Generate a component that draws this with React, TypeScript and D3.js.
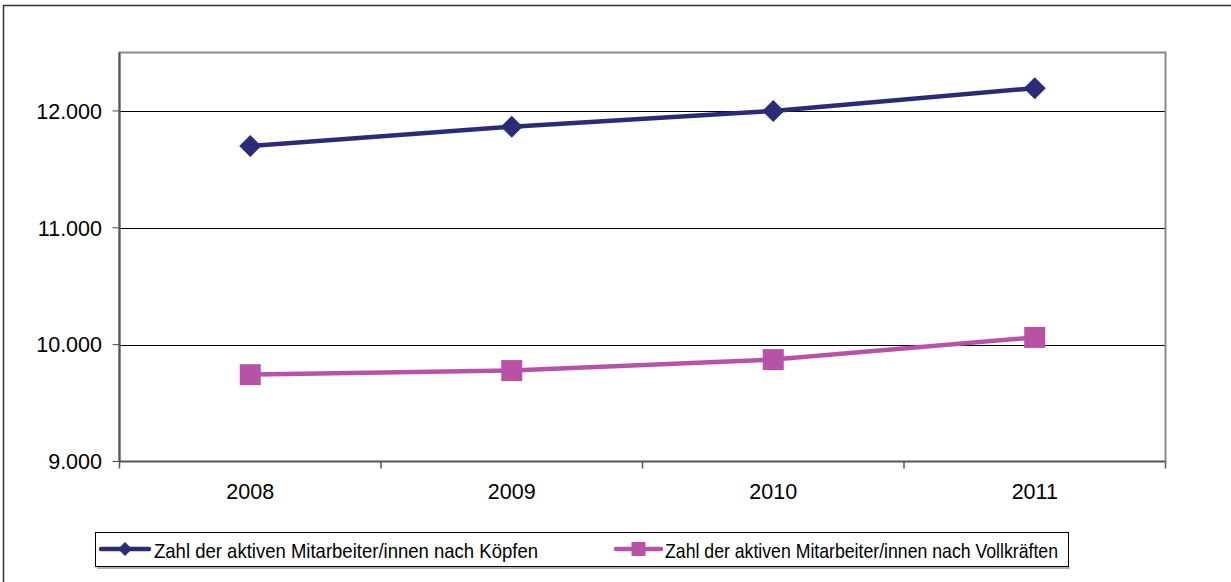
import React from "react";
import * as d3 from "d3";

const years = ["2008", "2009", "2010", "2011"];
const koepfe = [11700, 11865, 12000, 12195];
const vollkraefte = [9743, 9778, 9872, 10062];
const yTicks = [9000, 10000, 11000, 12000];
const seriesNames = [
  "Zahl der aktiven Mitarbeiter/innen nach Köpfen",
  "Zahl der aktiven Mitarbeiter/innen nach Vollkräften",
];

const W = 1231;
const H = 582;
const left = 119.5;
const right = 1165.5;
const top = 52.5;
const bottom = 461.5;
const navy = "#2B2B7A";
const pink = "#B752A7";
const font = "'Liberation Sans', Arial, sans-serif";

export default function App() {
  const x = d3.scaleBand<string>().domain(years).range([left, right]);
  const y = d3.scaleLinear().domain([9000, 12500]).range([bottom, top]);
  const cx = (d: string) => (x(d) ?? 0) + x.bandwidth() / 2;
  const line = d3
    .line<number>()
    .x((_, i) => cx(years[i]))
    .y((v) => y(v));
  const fmt = (v: number) => d3.format(",")(v).replace(/,/g, ".");
  const boundaries = years.map((d) => x(d) ?? 0).concat([right]);

  const diamond = (px: number, py: number, r: number) =>
    `M${px - r},${py}L${px},${py - r}L${px + r},${py}L${px},${py + r}Z`;

  return (
    <svg
      width={W}
      height={H}
      style={{ position: "absolute", left: 0, top: 0, background: "#fff" }}
    >
      <rect x={3.5} y={5.5} width={W + 10} height={H + 10} fill="#fff" stroke="#333" strokeWidth={1.5} />
      {/* gridlines */}
      {yTicks.slice(1).map((t) => (
        <line key={t} x1={left} x2={right} y1={Math.round(y(t)) + 0.5} y2={Math.round(y(t)) + 0.5} stroke="#000" strokeWidth={1} />
      ))}
      {/* plot border */}
      <path
        d={`M${left},${bottom}L${left},${top}L${right},${top}L${right},${bottom}`}
        fill="none"
        stroke="#8a8a8a"
        strokeWidth={2}
      />
      <line x1={left} x2={left} y1={top} y2={bottom} stroke="#555" strokeWidth={2} />
      <line x1={left} x2={right} y1={bottom} y2={bottom} stroke="#555" strokeWidth={2} />
      {/* y ticks */}
      {yTicks.map((t) => (
        <g key={t}>
          <line x1={left - 7} x2={left} y1={y(t)} y2={y(t)} stroke="#444" strokeWidth={1} />
          <text x={102} y={y(t)} dy="0.36em" textAnchor="end" fontFamily={font} fontSize={21.5} fill="#000">
            {fmt(t)}
          </text>
        </g>
      ))}
      {/* x ticks */}
      {boundaries.map((b, i) => (
        <line key={i} x1={b} x2={b} y1={bottom} y2={bottom + 7} stroke="#555" strokeWidth={1.5} />
      ))}
      {years.map((d) => (
        <text key={d} x={cx(d)} y={499} textAnchor="middle" fontFamily={font} fontSize={21.5} fill="#000">
          {d}
        </text>
      ))}
      {/* series */}
      <path d={line(koepfe) ?? ""} fill="none" stroke={navy} strokeWidth={4.5} />
      <path d={line(vollkraefte) ?? ""} fill="none" stroke={pink} strokeWidth={4.5} />
      {koepfe.map((v, i) => (
        <path key={i} d={diamond(cx(years[i]), y(v), 11)} fill={navy} />
      ))}
      {vollkraefte.map((v, i) => (
        <rect key={i} x={cx(years[i]) - 10.5} y={y(v) - 10.5} width={21} height={21} fill={pink} />
      ))}
      {/* legend */}
      <rect x={95.5} y={532.5} width={973} height={34} fill="#fff" stroke="#000" strokeWidth={1} />
      <line x1={97} x2={1070} y1={568} y2={568} stroke="#999" strokeWidth={1.5} />
      <line x1={101} x2={149} y1={549} y2={549} stroke={navy} strokeWidth={4.5} strokeLinecap="round" />
      <path d={diamond(125, 549, 7)} fill={navy} />
      <text x={154} y={557.5} fontFamily={font} fontSize={21} textLength={384} lengthAdjust="spacingAndGlyphs" fill="#000">
        {seriesNames[0]}
      </text>
      <line x1={616} x2={661} y1={549} y2={549} stroke={pink} strokeWidth={4.5} strokeLinecap="round" />
      <rect x={631.5} y={542} width={14} height={14} fill={pink} />
      <text x={665} y={557.5} fontFamily={font} fontSize={21} textLength={393} lengthAdjust="spacingAndGlyphs" fill="#000">
        {seriesNames[1]}
      </text>
    </svg>
  );
}
